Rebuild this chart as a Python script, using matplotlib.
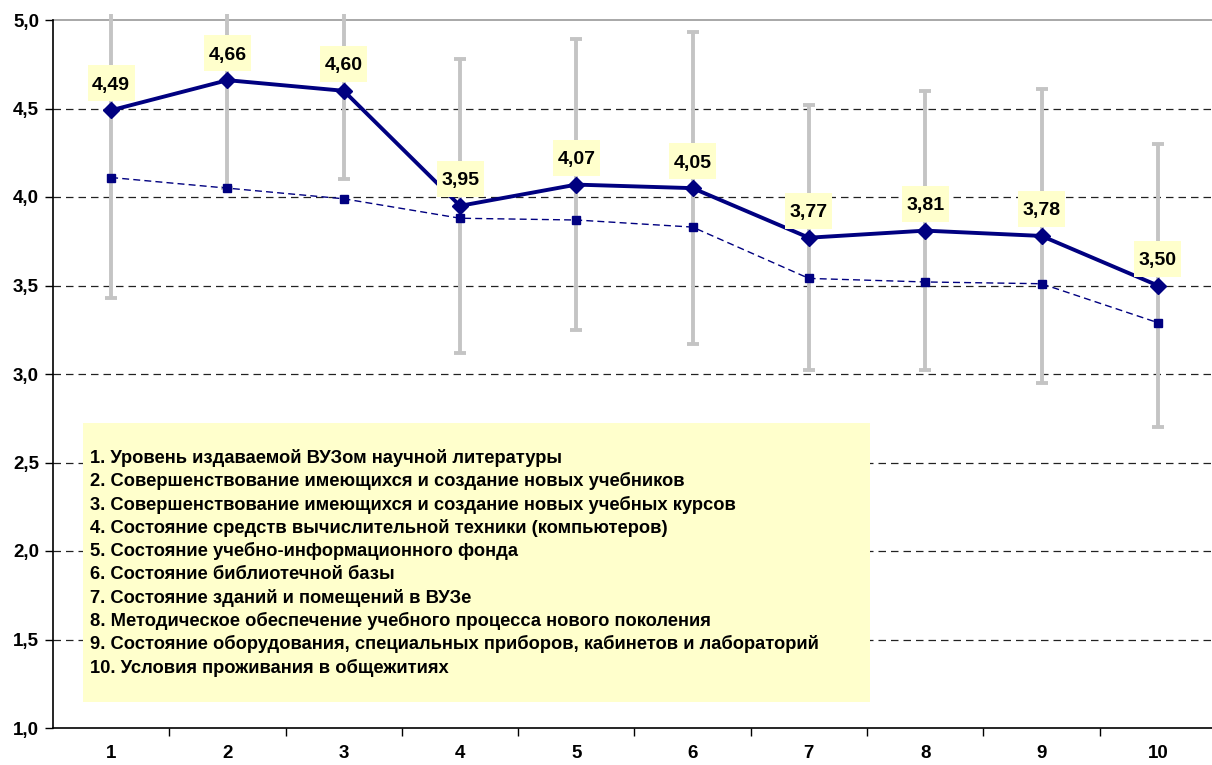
import matplotlib
matplotlib.use("Agg")
import matplotlib.pyplot as plt
import matplotlib.transforms as mtransforms
from matplotlib.patches import Rectangle
import numpy as np

categories = ["1", "2", "3", "4", "5", "6", "7", "8", "9", "10"]
main_values = [4.49, 4.66, 4.60, 3.95, 4.07, 4.05, 3.77, 3.81, 3.78, 3.50]
main_labels = ["4,49", "4,66", "4,60", "3,95", "4,07", "4,05", "3,77", "3,81", "3,78", "3,50"]
std_dev = [1.06, 0.61, 0.50, 0.83, 0.82, 0.88, 0.75, 0.79, 0.83, 0.80]
second_values = [4.11, 4.05, 3.99, 3.88, 3.87, 3.83, 3.54, 3.52, 3.51, 3.29]
y_ticks = [1.0, 1.5, 2.0, 2.5, 3.0, 3.5, 4.0, 4.5, 5.0]
y_tick_labels = ["1,0", "1,5", "2,0", "2,5", "3,0", "3,5", "4,0", "4,5", "5,0"]
legend_lines = [
    "1. Уровень издаваемой ВУЗом научной литературы",
    "2. Совершенствование имеющихся и создание новых учебников",
    "3. Совершенствование имеющихся и создание новых учебных курсов",
    "4. Состояние средств вычислительной техники (компьютеров)",
    "5. Состояние учебно-информационного фонда",
    "6. Состояние библиотечной базы",
    "7. Состояние зданий и помещений в ВУЗе",
    "8. Методическое обеспечение учебного процесса нового поколения",
    "9. Состояние оборудования, специальных приборов, кабинетов и лабораторий",
    "10. Условия проживания в общежитиях",
]

plt.rcParams['font.family'] = ['Liberation Sans', 'DejaVu Sans']

W, H = 1212, 765
fig = plt.figure(figsize=(W / 100, H / 100), dpi=100)
ax_left = 53 / W
ax_right = 1.0
ax_bottom = (H - 728) / H
ax_top = (H - 20) / H
ax = fig.add_axes([ax_left, ax_bottom, ax_right - ax_left, ax_top - ax_bottom])

x = np.arange(1, len(categories) + 1)
ax.set_xlim(0.5, 10.466)
ax.set_ylim(1.0, 5.0)

# gridlines
for yv in y_ticks[1:-1]:
    ax.axhline(yv, color="#222222", lw=0.9, ls=(0, (6, 4)), zorder=1)
ax.axhline(5.0, color="#999999", lw=1.2, zorder=1, clip_on=False)

# error bars (clipped slightly above plot area)
eb = ax.errorbar(x, main_values, yerr=std_dev, fmt="none", ecolor="#c4c4c4",
                 elinewidth=2.8, capsize=4.0, capthick=2.8, zorder=2)
from matplotlib.transforms import Bbox, TransformedBbox
clip_box = TransformedBbox(Bbox([[0.5, 0.95], [10.6, 5.035]]), ax.transData)
for artist in list(eb.lines[1]) + list(eb.lines[2]):
    artist.set_clip_on(True)
    artist.set_clip_box(clip_box)

# second series (dashed)
ax.plot(x, second_values, color="#000080", lw=1.0, ls=(0, (5, 3)),
        marker="s", markersize=5.5, zorder=3)

# main series
ax.plot(x, main_values, color="#000080", lw=2.8, marker="D", markersize=8.5, zorder=4)

# data labels with pale yellow boxes (box sized in pixels, anchored at each point)
lab_off_px = 27
box_w, box_h = 47, 36
for xi, yi, lab in zip(x, main_values, main_labels):
    tr = mtransforms.ScaledTranslation(xi, yi, ax.transData)
    ax.add_patch(Rectangle((-box_w / 2, lab_off_px - box_h / 2), box_w, box_h,
                           transform=mtransforms.IdentityTransform() + tr,
                           facecolor="#FFFFCC", edgecolor="none", zorder=5, clip_on=False))
    ax.annotate(lab, (xi, yi), xytext=(0, lab_off_px * 0.72), textcoords="offset points",
                ha="center", va="center_baseline", fontsize=14, fontweight="bold",
                zorder=6)

# legend box
leg_x0, leg_y0 = 83 / W, (H - 702) / H
leg_w, leg_h = (870 - 83) / W, (702 - 423) / H
fig.patches.append(Rectangle((leg_x0, leg_y0), leg_w, leg_h, transform=fig.transFigure,
                             facecolor="#FFFFCC", edgecolor="none", zorder=6))
line_h = 23.3
for i, t in enumerate(legend_lines):
    fig.text(90 / W, (H - (458 + i * line_h)) / H, t, fontsize=13.2, fontweight="bold",
             ha="left", va="center", zorder=7)

# axes styling
ax.spines["top"].set_visible(False)
ax.spines["right"].set_visible(False)
ax.spines["left"].set_linewidth(1.2)
ax.spines["bottom"].set_linewidth(1.2)
ax.set_yticks(y_ticks)
ax.set_yticklabels(y_tick_labels, fontsize=13.5, fontweight="bold")
ax.tick_params(axis="y", direction="out", length=6, width=1, pad=4)
ax.set_xticks(x)
ax.set_xticklabels(categories, fontsize=13.5, fontweight="bold")
ax.tick_params(axis="x", which="major", length=0, pad=12)
ax.set_xticks(np.arange(1.5, 10.5, 1.0), minor=True)
ax.tick_params(axis="x", which="minor", direction="out", length=6, width=1)

fig.savefig("out.png", dpi=100)
